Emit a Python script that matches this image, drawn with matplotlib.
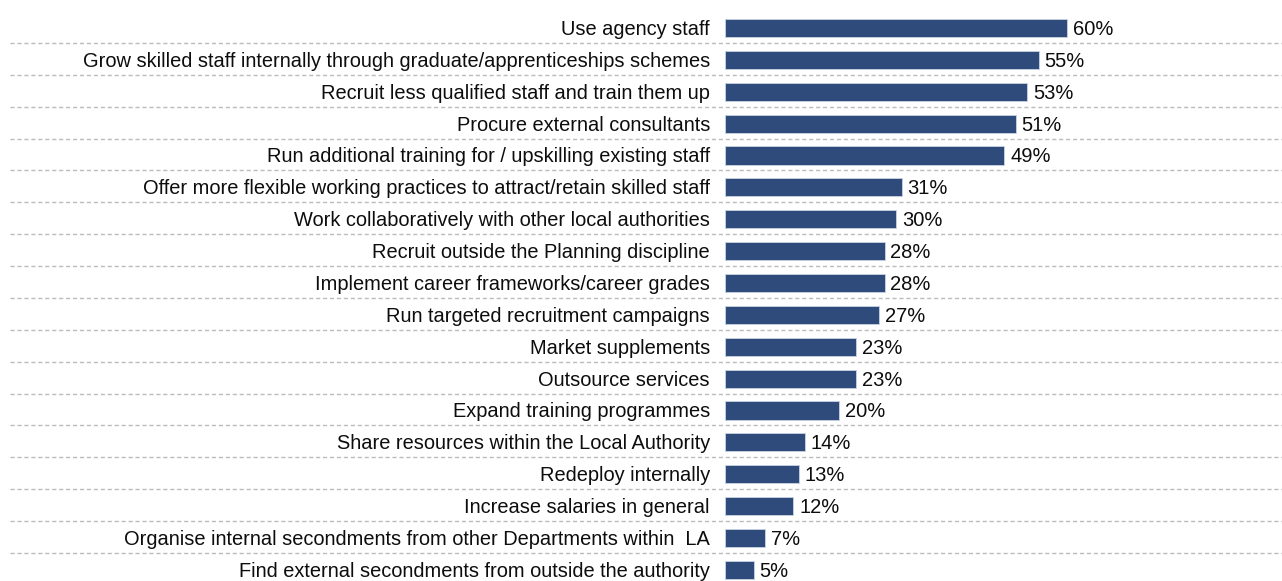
import matplotlib.pyplot as plt
from matplotlib.lines import Line2D
import matplotlib.transforms as mtransforms

labels = [
    "Use agency staff",
    "Grow skilled staff internally through graduate/apprenticeships schemes",
    "Recruit less qualified staff and train them up",
    "Procure external consultants",
    "Run additional training for / upskilling existing staff",
    "Offer more flexible working practices to attract/retain skilled staff",
    "Work collaboratively with other local authorities",
    "Recruit outside the Planning discipline",
    "Implement career frameworks/career grades",
    "Run targeted recruitment campaigns",
    "Market supplements",
    "Outsource services",
    "Expand training programmes",
    "Share resources within the Local Authority",
    "Redeploy internally",
    "Increase salaries in general",
    "Organise internal secondments from other Departments within  LA",
    "Find external secondments from outside the authority",
]
values = [60, 55, 53, 51, 49, 31, 30, 28, 28, 27, 23, 23, 20, 14, 13, 12, 7, 5]

plt.rcParams['font.family'] = ['Liberation Sans', 'DejaVu Sans']

W, H = 1282, 581
fig = plt.figure(figsize=(W / 100, H / 100), dpi=100)
ax = fig.add_axes([725 / W, 0, 1 - 725 / W, 1])

ypos = list(range(len(values)))
ax.barh(ypos, values, height=0.57, color='#2f4b7c', edgecolor='#c9d3e3', linewidth=0.6)

ax.set_xlim(0, 97.7)
ax.set_ylim(17.35, -0.878)
ax.axis('off')

base = 0.22  # baseline offset below the row centre

# percentage labels after each bar
for y, v in zip(ypos, values):
    ax.text(v + 1.0, y + base, f"{v}%", va='baseline', ha='left',
            fontsize=14.5, color='#0d0d0d')

# category labels, right aligned left of the bars
trans_lab = mtransforms.blended_transform_factory(fig.transFigure, ax.transData)
for y, lab in zip(ypos, labels):
    ax.text(710 / W, y + base, lab, transform=trans_lab, va='baseline', ha='right',
            fontsize=14.4, color='#0d0d0d')

# dashed separators between rows across the whole width
for i in range(len(values) - 1):
    ln = Line2D([10 / W, 1], [i + 0.47, i + 0.47], transform=trans_lab,
                color='#bcbcbc', linestyle=(0, (3, 2)), linewidth=1.0, clip_on=False)
    fig.add_artist(ln)

fig.savefig('out.png', dpi=100)
